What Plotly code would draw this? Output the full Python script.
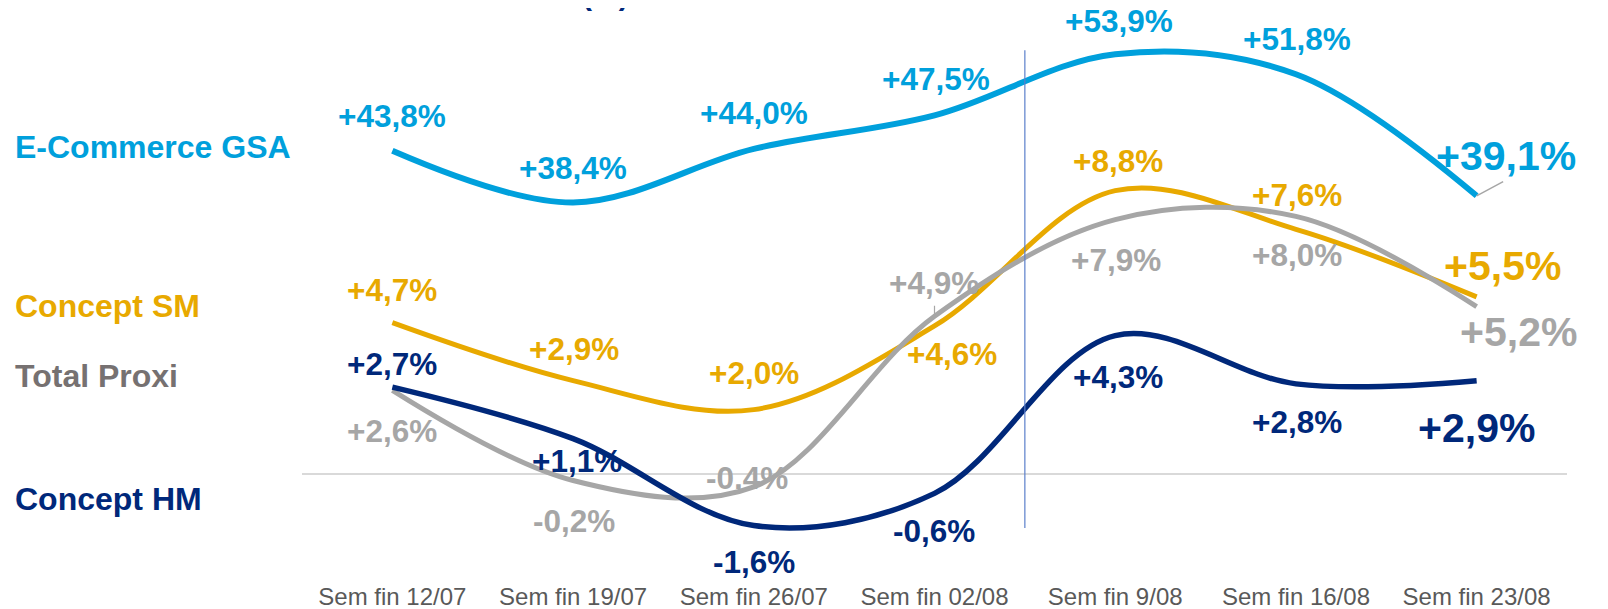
import plotly.graph_objects as go

# ---------------- data ----------------
weeks = ["Sem fin 12/07", "Sem fin 19/07", "Sem fin 26/07", "Sem fin 02/08",
         "Sem fin 9/08", "Sem fin 16/08", "Sem fin 23/08"]
ecommerce_gsa = [43.8, 38.4, 44.0, 47.5, 53.9, 51.8, 39.1]
concept_sm = [4.7, 2.9, 2.0, 4.6, 8.8, 7.6, 5.5]
total_proxi = [2.6, -0.2, -0.4, 4.9, 7.9, 8.0, 5.2]
concept_hm = [2.7, 1.1, -1.6, -0.6, 4.3, 2.8, 2.9]
series_names = ["E-Commerce GSA", "Concept SM", "Total Proxi", "Concept HM"]

# ---------------- styles ----------------
C_BLUE = "#00A0DC"
C_GOLD = "#E8A900"
C_GRAY = "#A6A6A6"
C_GRAY_DARK = "#767171"
C_NAVY = "#00287A"
FONT = "Liberation Sans, Arial, sans-serif"

x = list(range(len(weeks)))

def fmt(v):
    s = f"{v:+.1f}".replace(".", ",")
    return s + "%"

fig = go.Figure()

fig.add_trace(go.Scatter(x=x, y=ecommerce_gsa, mode="lines", yaxis="y2",
                         line=dict(color=C_BLUE, width=6, shape="spline", smoothing=1.0),
                         name=series_names[0], hoverinfo="skip"))
fig.add_trace(go.Scatter(x=x, y=concept_sm, mode="lines",
                         line=dict(color=C_GOLD, width=5, shape="spline", smoothing=1.0),
                         name=series_names[1], hoverinfo="skip"))
fig.add_trace(go.Scatter(x=x, y=total_proxi, mode="lines",
                         line=dict(color=C_GRAY, width=5, shape="spline", smoothing=1.0),
                         name=series_names[2], hoverinfo="skip"))
fig.add_trace(go.Scatter(x=x, y=concept_hm, mode="lines",
                         line=dict(color=C_NAVY, width=5.5, shape="spline", smoothing=1.0),
                         name=series_names[3], hoverinfo="skip"))

# label offsets in pixels (x shift, y shift) relative to each point
off_blue = [(0, 35), (0, 35), (0, 36), (1, 36), (4, 33), (1, 35), (29, 40)]
off_gold = [(0, 33), (1, 32), (0, 37), (17, -28), (3, 30), (1, 34), (26, 31)]
off_gray = [(0, -41), (1, -41), (-7, 9), (-1, 33), (1, -40), (1, -39), (42, -25)]
off_navy = [(0, 23), (4, -22), (0, -36), (-1, -38), (3, -41), (1, -38), (0, -47)]

annotations = []

def add_labels(vals, offs, color, yref):
    for i, (v, (dx, dy)) in enumerate(zip(vals, offs)):
        big = i == len(vals) - 1
        annotations.append(dict(
            x=i, y=v, xref="x", yref=yref, text=f"<b>{fmt(v)}</b>",
            showarrow=False, xshift=dx, yshift=dy,
            font=dict(family=FONT, size=41 if big else 31.5, color=color),
            xanchor="center", yanchor="middle"))

add_labels(ecommerce_gsa, off_blue, C_BLUE, "y2")
add_labels(concept_sm, off_gold, C_GOLD, "y")
add_labels(total_proxi, off_gray, C_GRAY, "y")
add_labels(concept_hm, off_navy, C_NAVY, "y")

# leader lines
annotations.append(dict(x=6, y=ecommerce_gsa[6], xref="x", yref="y2", text="",
                        showarrow=True, arrowhead=0, arrowwidth=1.5, arrowcolor=C_GRAY,
                        ax=28, ay=-15, standoff=0, startstandoff=0))
annotations.append(dict(x=3, y=total_proxi[3], xref="x", yref="y", text="",
                        showarrow=True, arrowhead=0, arrowwidth=1.2, arrowcolor=C_GRAY,
                        ax=0, ay=-12, standoff=0, startstandoff=0))

# left legend-like labels
left_labels = [
    (series_names[0], C_BLUE, 0.769),
    (series_names[1], C_GOLD, 0.480),
    (series_names[2], C_GRAY_DARK, 0.3527),
    (series_names[3], C_NAVY, 0.129),
]
for txt, col, yy in left_labels:
    annotations.append(dict(x=-0.2285, y=yy, xref="paper", yref="paper",
                            text=f"<b>{txt}</b>", showarrow=False,
                            xanchor="left", yanchor="middle",
                            font=dict(family=FONT, size=32, color=col)))

# cut-off title fragment at top
annotations.append(dict(x=0.2403, y=1.012, xref="paper", yref="paper",
                        text="<b>(%)</b>", showarrow=False,
                        xanchor="center", yanchor="bottom",
                        font=dict(family=FONT, size=30, color=C_NAVY)))

# the page body keeps an 8px margin: plot box is placed accordingly
fig.update_layout(
    width=1608, height=609,
    margin=dict(l=294, r=49, t=12, b=47),
    paper_bgcolor="white", plot_bgcolor="white",
    showlegend=False,
    font=dict(family=FONT),
    annotations=annotations,
    shapes=[dict(type="line", xref="x", yref="paper", x0=3.5, x1=3.5,
                 y0=0.0764, y1=0.945, line=dict(color="#5B7FCB", width=1.2))],
    xaxis=dict(range=[-0.5, 6.5], tickmode="array", tickvals=x, ticktext=weeks,
               showgrid=False, zeroline=False, showline=False, automargin=False,
               ticks="outside", ticklen=5, tickcolor="rgba(0,0,0,0)",
               tickfont=dict(family=FONT, size=24, color="#595959")),
    yaxis=dict(range=[-2.98, 14.10], showgrid=False, showticklabels=False,
               zeroline=True, zerolinecolor="#D9D9D9", zerolinewidth=2,
               showline=False, ticks="", automargin=False),
    yaxis2=dict(range=[0, 57.47], overlaying="y", side="right", showgrid=False,
                showticklabels=False, zeroline=False, showline=False, ticks="",
                automargin=False),
)

fig.write_html("out.html")
